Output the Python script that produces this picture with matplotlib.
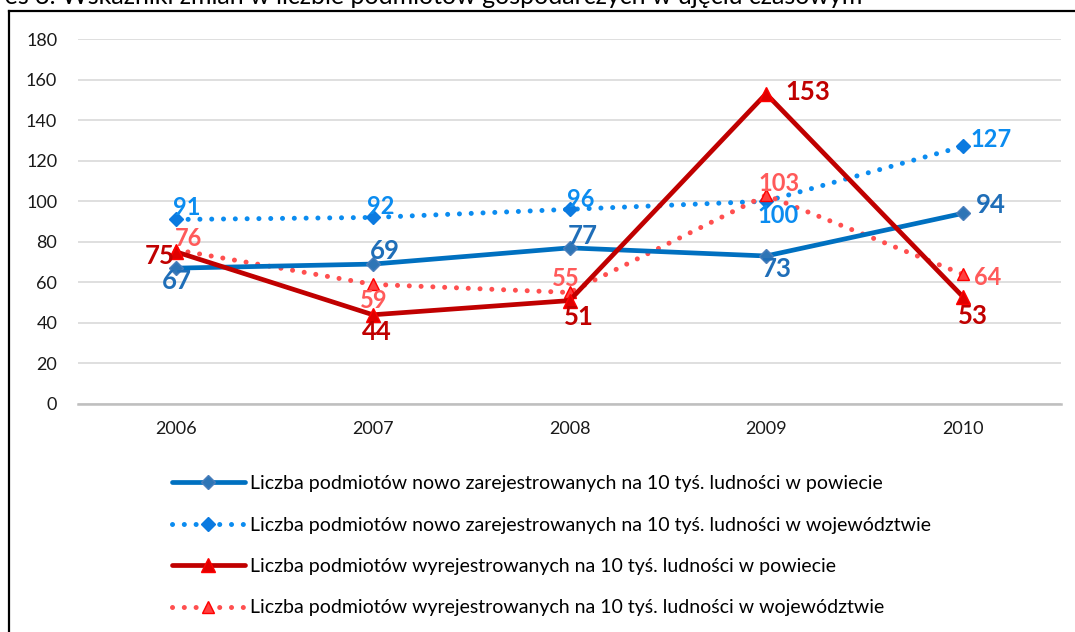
import matplotlib
matplotlib.use("Agg")
import matplotlib.pyplot as plt
from matplotlib.lines import Line2D

plt.rcParams['font.family'] = ['Lato', 'DejaVu Sans']

# dane
lata = ["2006", "2007", "2008", "2009", "2010"]
rej_powiat = [67, 69, 77, 73, 94]
rej_woj = [91, 92, 96, 100, 127]
wyrej_powiat = [75, 44, 51, 153, 53]
wyrej_woj = [76, 59, 55, 103, 64]

nazwy = [
    "Liczba podmiotów nowo zarejestrowanych na 10 tyś. ludności w powiecie",
    "Liczba podmiotów nowo zarejestrowanych na 10 tyś. ludności w województwie",
    "Liczba podmiotów wyrejestrowanych na 10 tyś. ludności w powiecie",
    "Liczba podmiotów wyrejestrowanych na 10 tyś. ludności w województwie",
]
tytul = "Wykres 3. Wskaźniki zmian w liczbie podmiotów gospodarczych w ujęciu czasowym"

# przesuniecia etykiet (px)
off1 = [(1, -13), (12, 13), (13, 12), (11, -13), (28, 8)]
off2 = [(10, 12), (8, 11), (11, 10), (12, -14), (28, 7)]
off3 = [(-17, -4), (4, -17), (9, -16), (42, 2), (10, -19)]
off4 = [(12, 11), (1, -16), (-4, 14), (13, 12), (25, -3)]

fig = plt.figure(figsize=(10.75, 6.32), dpi=100)
ax = fig.add_axes([78/1075, 1-404/632, (1061-78)/1075, (404-39)/632])

x = range(len(lata))
dot = (0, (0.01, 2.35))

l1, = ax.plot(x, rej_powiat, color='#0070C0', lw=3.4, solid_capstyle='round',
              marker='D', ms=7.5, mfc='#2E75B6', mec='#4A7EBB', zorder=4)
l2, = ax.plot(x, rej_woj, color='#0B8CF0', lw=3.6, ls=dot, dash_capstyle='round',
              marker='D', ms=7.5, mfc='#0B7AE0', mec='#0B7AE0', zorder=3)
l3, = ax.plot(x, wyrej_powiat, color='#C00000', lw=3.4, solid_capstyle='round',
              marker='^', ms=10, mfc='#E00000', mec='#FF0000', zorder=5)
l4, = ax.plot(x, wyrej_woj, color='#FF4F4F', lw=3.6, ls=dot, dash_capstyle='round',
              marker='^', ms=9, mfc='#FF4040', mec='#FF0000', zorder=3)

def etykiety(vals, offs, color, size):
    for i, (v, (dx, dy)) in enumerate(zip(vals, offs)):
        ax.annotate(str(v), (i, v), xytext=(dx*0.72, dy*0.72), textcoords='offset points',
                    ha='center', va='center', color=color, fontsize=size,
                    fontweight='bold', zorder=6)

etykiety(rej_powiat, off1, '#1F6EB8', 18.5)
etykiety(rej_woj, off2, '#0B8CF0', 17)
etykiety(wyrej_powiat, off3, '#C00000', 18.5)
etykiety(wyrej_woj, off4, '#FF5A5A', 17)

ax.set_xlim(-0.5, 4.5)
ax.set_ylim(0, 180)
ax.set_yticks(range(0, 181, 20))
ax.set_xticks(list(x))
ax.set_xticklabels(lata)
ax.grid(axis='y', color='#D9D9D9', lw=1.2)
ax.set_axisbelow(True)
for s in ['top', 'right', 'left']:
    ax.spines[s].set_visible(False)
ax.spines['bottom'].set_color('#BFBFBF')
ax.spines['bottom'].set_linewidth(1.8)
ax.tick_params(length=0, labelsize=13, colors='#1a1a1a')
ax.tick_params(axis='x', pad=12)
ax.tick_params(axis='y', pad=15)

fig.legend([l1, l2, l3, l4], nazwy, loc='upper left',
           bbox_to_anchor=(172/1075, 1-475/632), frameon=False, fontsize=14,
           handlelength=3.75, numpoints=1, labelspacing=1.26, handletextpad=0.26,
           borderaxespad=0, borderpad=0)

# ramka
fig.add_artist(Line2D([9/1075, 9/1075], [0, 1-11/632], color='black', lw=1.6))
fig.add_artist(Line2D([9/1075, 1], [1-11/632, 1-11/632], color='black', lw=1.6))

fig.text(862/1075, 1-3.5/632, tytul, ha='right', va='baseline', fontsize=18, color='black')

fig.savefig("out.png", dpi=100)
